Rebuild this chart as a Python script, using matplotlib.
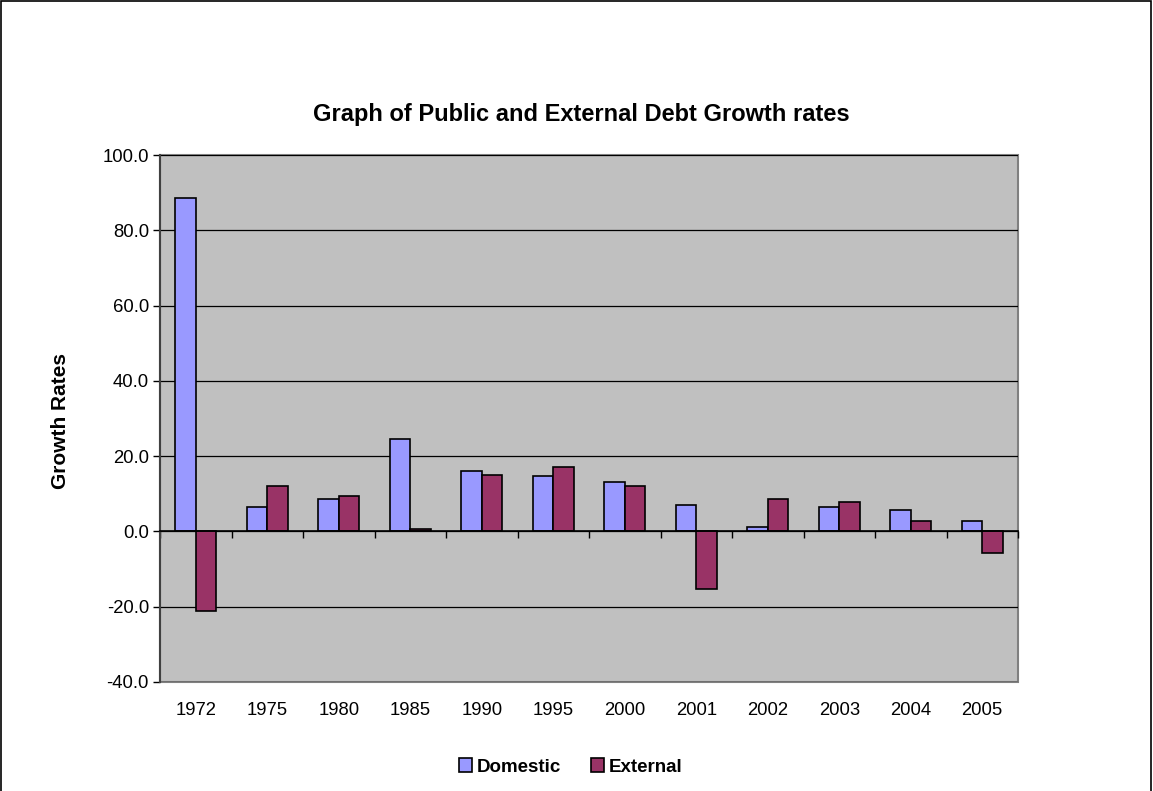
import matplotlib
matplotlib.use("Agg")
import matplotlib.pyplot as plt
from matplotlib.patches import Rectangle
from matplotlib.ticker import FormatStrFormatter
from matplotlib.transforms import blended_transform_factory
import numpy as np

plt.rcParams["font.family"] = ["Liberation Sans", "DejaVu Sans"]

years = ["1972", "1975", "1980", "1985", "1990", "1995",
         "2000", "2001", "2002", "2003", "2004", "2005"]
domestic = [88.7, 6.5, 8.6, 24.5, 16.0, 14.7, 13.1, 7.1, 1.2, 6.5, 5.6, 2.8]
external = [-21.1, 12.2, 9.3, 0.6, 15.0, 17.0, 12.1, -15.3, 8.6, 7.9, 2.8, -5.6]

DOM_COLOR = "#9999FF"
EXT_COLOR = "#993366"

W, H = 1153, 791
fig = plt.figure(figsize=(W / 100, H / 100), dpi=100)
ax = fig.add_axes([160 / W, 1 - 682 / H, 858 / W, 527 / H])

x = np.arange(len(years))
bw = 0.286
ax.bar(x - bw / 2, domestic, bw, color=DOM_COLOR, edgecolor="black", linewidth=1.2,
       label="Domestic", zorder=3)
ax.bar(x + bw / 2, external, bw, color=EXT_COLOR, edgecolor="black", linewidth=1.2,
       label="External", zorder=3)

ax.set_xlim(-0.5, len(years) - 0.5)
ax.set_ylim(-40, 100)
ax.set_yticks(np.arange(-40, 101, 20))
ax.yaxis.set_major_formatter(FormatStrFormatter("%.1f"))
ax.tick_params(axis="y", direction="out", length=5, width=1, labelsize=13.3, pad=3)

# plot area
ax.set_facecolor("#C0C0C0")
ax.patch.set_edgecolor("#808080")
ax.patch.set_linewidth(1.5)
ax.grid(axis="y", color="black", linewidth=0.9, zorder=1)
ax.set_axisbelow(True)

for s in ("top", "right"):
    ax.spines[s].set_visible(False)
ax.spines["left"].set_color("#404040")
ax.spines["left"].set_linewidth(1.5)
ax.spines["bottom"].set_position(("data", 0))
ax.spines["bottom"].set_color("black")
ax.spines["bottom"].set_linewidth(1.2)
ax.spines["bottom"].set_zorder(4)

# category boundary ticks on the zero line, labels under the plot area
ax.set_xticks(np.arange(-0.5, len(years), 1.0))
ax.set_xticklabels([])
ax.tick_params(axis="x", direction="out", length=5, width=1)
tr = blended_transform_factory(ax.transData, ax.transAxes)
for xi, lab in zip(x, years):
    ax.text(xi, -0.055, lab, transform=tr, ha="center", va="center", fontsize=13.3)

ax.set_ylabel("Growth Rates", fontsize=15, fontweight="bold")
ax.yaxis.set_label_coords(-0.105, 0.495)
fig.text(0.5043, 1 - 115 / H, "Graph of Public and External Debt Growth rates",
         ha="center", va="center", fontsize=17, fontweight="bold")

fig.legend(loc="center", bbox_to_anchor=(0.495, 1 - 767 / H), ncol=2, frameon=False,
           prop={"weight": "bold", "size": 13.5}, handlelength=0.7, handleheight=0.7,
           handletextpad=0.25, columnspacing=1.6)

fig.patches.append(Rectangle((0.5 / W, -0.01), 1 - 2.5 / W, 1.01 - 0.5 / H,
                             transform=fig.transFigure, fill=False,
                             edgecolor="black", linewidth=1.2))

fig.savefig("out.png", dpi=100)
